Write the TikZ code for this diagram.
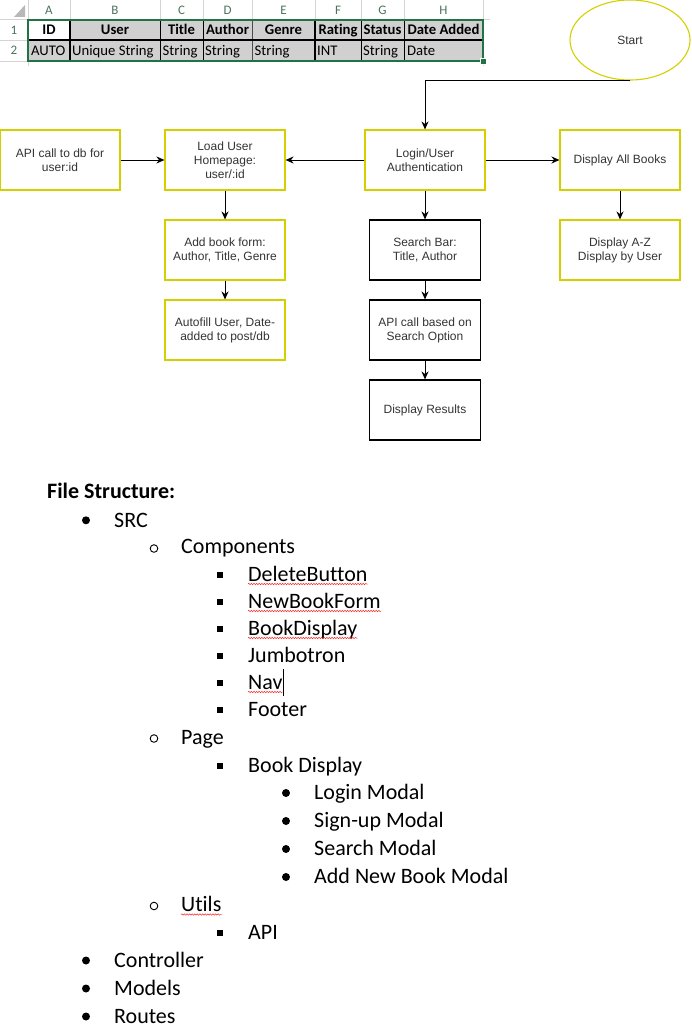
\documentclass[tikz,border=0pt]{standalone}
\usepackage{fontspec}
\usepackage{tikz}
\usetikzlibrary{shapes.geometric, arrows.meta, decorations.pathmorphing}
\setmainfont{Liberation Sans}
\newfontfamily\calibri[Ligatures=NoCommon]{Carlito}
\newcommand{\pxsize}{1pt}
\definecolor{boxyellow}{RGB}{212,208,0}
\definecolor{xlgreen}{RGB}{33,115,70}
\definecolor{xlcell}{RGB}{208,208,208}
\definecolor{xlgrid}{RGB}{212,212,212}
\definecolor{xlletter}{RGB}{75,115,90}
\definecolor{boxtext}{RGB}{51,51,51}

\begin{document}
\begin{tikzpicture}
\useasboundingbox (0,0) rectangle (691*\pxsize,-1033*\pxsize);
\tikzstyle{xlhead}=[font=\calibri\bfseries\fontsize{14.7}{16}\selectfont, anchor=base, inner sep=0pt]
\tikzstyle{xlval}=[font=\calibri\fontsize{14.7}{16}\selectfont, anchor=base west, inner sep=0pt]
\tikzstyle{xlindex}=[font=\calibri\fontsize{13}{15}\selectfont, text=xlletter, inner sep=0pt]
\tikzstyle{flowbox}=[draw=boxyellow, line width=1.1pt, rectangle,
			minimum width=120*\pxsize,
			minimum height=60*\pxsize,
			align=center, text=boxtext,
			font=\fontsize{12}{14}\selectfont,
			inner sep=2pt
			]
\tikzstyle{searchbox}=[flowbox, draw=black, minimum width=111*\pxsize]
\tikzstyle{flowarrow}=[-{Stealth[length=8pt,width=7pt]}, line width=1pt]
\tikzstyle{listitem}=[font=\calibri\fontsize{22}{26}\selectfont, anchor=base west, inner sep=0pt]
\tikzstyle{squiggle}=[red!85, line width=0.5pt, decorate, decoration={snake, amplitude=0.7pt, segment length=2.6pt}]

% spreadsheet header
\fill[black!28] (14*\pxsize,-17*\pxsize) -- (25*\pxsize,-17*\pxsize) -- (25*\pxsize,-5*\pxsize) -- cycle;
\draw[xlgrid] (0,-19.5*\pxsize) -- (490*\pxsize,-19.5*\pxsize);
\draw[xlgrid] (0,-40*\pxsize) -- (28*\pxsize,-40*\pxsize);
\draw[xlgrid] (0,-61*\pxsize) -- (28*\pxsize,-61*\pxsize);
\draw[xlgrid] (28*\pxsize,0) -- (28*\pxsize,-66*\pxsize);
\draw[xlgrid] (70*\pxsize,0) -- (70*\pxsize,-19.5*\pxsize);
\draw[xlgrid] (160*\pxsize,0) -- (160*\pxsize,-19.5*\pxsize);
\draw[xlgrid] (203*\pxsize,0) -- (203*\pxsize,-19.5*\pxsize);
\draw[xlgrid] (252*\pxsize,0) -- (252*\pxsize,-19.5*\pxsize);
\draw[xlgrid] (315*\pxsize,0) -- (315*\pxsize,-19.5*\pxsize);
\draw[xlgrid] (361*\pxsize,0) -- (361*\pxsize,-19.5*\pxsize);
\draw[xlgrid] (404*\pxsize,0) -- (404*\pxsize,-19.5*\pxsize);
\draw[xlgrid] (483*\pxsize,0) -- (483*\pxsize,-66*\pxsize);

\node[xlindex] (colA) at (49*\pxsize,-10.5*\pxsize) {A};
\node[xlindex] (colB) at (115*\pxsize,-10.5*\pxsize) {B};
\node[xlindex] (colC) at (181.5*\pxsize,-10.5*\pxsize) {C};
\node[xlindex] (colD) at (227.5*\pxsize,-10.5*\pxsize) {D};
\node[xlindex] (colE) at (283.5*\pxsize,-10.5*\pxsize) {E};
\node[xlindex] (colF) at (338*\pxsize,-10.5*\pxsize) {F};
\node[xlindex] (colG) at (382.5*\pxsize,-10.5*\pxsize) {G};
\node[xlindex] (colH) at (443.5*\pxsize,-10.5*\pxsize) {H};
\node[xlindex] (rowone) at (14*\pxsize,-30*\pxsize) {1};
\node[xlindex] (rowtwo) at (14*\pxsize,-50.5*\pxsize) {2};

% cells
\fill[xlcell] (70*\pxsize,-20*\pxsize) rectangle (483*\pxsize,-61*\pxsize);
\fill[xlcell] (28*\pxsize,-40*\pxsize) rectangle (70*\pxsize,-61*\pxsize);
\draw[line width=1.1pt] (70*\pxsize,-20*\pxsize) -- (70*\pxsize,-61*\pxsize);
\draw[line width=0.8pt] (160*\pxsize,-20*\pxsize) -- (160*\pxsize,-61*\pxsize);
\draw[line width=0.8pt] (203*\pxsize,-20*\pxsize) -- (203*\pxsize,-61*\pxsize);
\draw[line width=0.6pt, black!70] (252*\pxsize,-20*\pxsize) -- (252*\pxsize,-61*\pxsize);
\draw[line width=1.1pt] (315*\pxsize,-20*\pxsize) -- (315*\pxsize,-61*\pxsize);
\draw[line width=0.8pt] (361*\pxsize,-20*\pxsize) -- (361*\pxsize,-61*\pxsize);
\draw[line width=0.8pt] (404*\pxsize,-20*\pxsize) -- (404*\pxsize,-61*\pxsize);
\draw[line width=1.8pt] (28*\pxsize,-40*\pxsize) -- (483*\pxsize,-40*\pxsize);
\draw[xlgreen, line width=1.8pt] (28*\pxsize,-20*\pxsize) rectangle (483*\pxsize,-61*\pxsize);
\fill[xlgreen, draw=white, line width=0.6pt] (480.5*\pxsize,-58.5*\pxsize) rectangle (486*\pxsize,-64*\pxsize);

\node[xlhead] (hID) at (49*\pxsize,-35*\pxsize) {ID};
\node[xlhead] (hUser) at (115*\pxsize,-35*\pxsize) {User};
\node[xlhead] (hTitle) at (181.5*\pxsize,-35*\pxsize) {Title};
\node[xlhead] (hAuthor) at (227.5*\pxsize,-35*\pxsize) {Author};
\node[xlhead] (hGenre) at (283.5*\pxsize,-35*\pxsize) {Genre};
\node[xlhead] (hRating) at (338*\pxsize,-35*\pxsize) {Rating};
\node[xlhead] (hStatus) at (382.5*\pxsize,-35*\pxsize) {Status};
\node[xlhead] (hDate) at (443.5*\pxsize,-35*\pxsize) {Date Added};

\node[xlval] (vID) at (31*\pxsize,-55.5*\pxsize) {AUTO};
\node[xlval] (vUser) at (72*\pxsize,-55.5*\pxsize) {Unique String};
\node[xlval] (vTitle) at (162.5*\pxsize,-55.5*\pxsize) {String};
\node[xlval] (vAuthor) at (205*\pxsize,-55.5*\pxsize) {String};
\node[xlval] (vGenre) at (254.5*\pxsize,-55.5*\pxsize) {String};
\node[xlval] (vRating) at (317*\pxsize,-55.5*\pxsize) {INT};
\node[xlval] (vStatus) at (363*\pxsize,-55.5*\pxsize) {String};
\node[xlval] (vDate) at (407*\pxsize,-55.5*\pxsize) {Date};

% flowchart
\node[flowbox, ellipse, minimum width=120*\pxsize, minimum height=80*\pxsize] (start) at (630*\pxsize,-40*\pxsize) {Start};
\node[flowbox] (login) at (425*\pxsize,-160*\pxsize) {Login/User\\Authentication};
\node[flowbox] (homepage) at (225*\pxsize,-160*\pxsize) {Load User\\Homepage:\\user/:id};
\node[flowbox] (userapi) at (60*\pxsize,-160*\pxsize) {API call to db for\\user:id};
\node[flowbox] (allbooks) at (620*\pxsize,-160*\pxsize) {Display All Books};
\node[flowbox] (bookform) at (225*\pxsize,-250*\pxsize) {Add book form:\\Author, Title, Genre};
\node[flowbox] (autofill) at (225*\pxsize,-330*\pxsize) {Autofill User, Date-\\added to post/db};
\node[searchbox] (searchbar) at (425*\pxsize,-250*\pxsize) {Search Bar:\\Title, Author};
\node[searchbox] (searchapi) at (425*\pxsize,-330*\pxsize) {API call based on\\Search Option};
\node[searchbox] (results) at (425*\pxsize,-410*\pxsize) {Display Results};
\node[flowbox] (sorting) at (620*\pxsize,-250*\pxsize) {Display A-Z\\Display by User};

\draw[flowarrow] (start.south) -| (login.north);
\draw[flowarrow] (userapi) -- (homepage);
\draw[flowarrow] (login) -- (homepage);
\draw[flowarrow] (login) -- (allbooks);
\draw[flowarrow] (homepage) -- (bookform);
\draw[flowarrow] (bookform) -- (autofill);
\draw[flowarrow] (login) -- (searchbar);
\draw[flowarrow] (searchbar) -- (searchapi);
\draw[flowarrow] (searchapi) -- (results);
\draw[flowarrow] (allbooks) -- (sorting);

% file structure
\node[listitem, font=\calibri\bfseries\fontsize{22}{26}\selectfont] (title) at (47*\pxsize,-498*\pxsize) {File Structure:};

\fill (86*\pxsize,-520.3*\pxsize) circle (4*\pxsize);
\node[listitem] (src) at (114*\pxsize,-527*\pxsize) {SRC};

\draw[line width=0.9pt] (154*\pxsize,-548.5*\pxsize) circle (3.8*\pxsize);
\node[listitem] (components) at (181*\pxsize,-553*\pxsize) {Components};

\fill (217*\pxsize,-571.5*\pxsize) rectangle (223*\pxsize,-577.5*\pxsize);
\node[listitem] (delbtn) at (248*\pxsize,-581*\pxsize) {DeleteButton};

\fill (217*\pxsize,-598.5*\pxsize) rectangle (223*\pxsize,-604.5*\pxsize);
\node[listitem] (newform) at (248*\pxsize,-608*\pxsize) {NewBookForm};

\fill (217*\pxsize,-625.5*\pxsize) rectangle (223*\pxsize,-631.5*\pxsize);
\node[listitem] (bookdisp) at (248*\pxsize,-635*\pxsize) {BookDisplay};

\fill (217*\pxsize,-652.5*\pxsize) rectangle (223*\pxsize,-658.5*\pxsize);
\node[listitem] (jumbo) at (248*\pxsize,-662*\pxsize) {Jumbotron};

\fill (217*\pxsize,-679.5*\pxsize) rectangle (223*\pxsize,-685.5*\pxsize);
\node[listitem] (nav) at (248*\pxsize,-689*\pxsize) {Nav};

\fill (217*\pxsize,-706.5*\pxsize) rectangle (223*\pxsize,-712.5*\pxsize);
\node[listitem] (footer) at (248*\pxsize,-716*\pxsize) {Footer};

\draw[line width=0.9pt] (154*\pxsize,-738.5*\pxsize) circle (3.8*\pxsize);
\node[listitem] (page) at (181*\pxsize,-744*\pxsize) {Page};

\fill (217*\pxsize,-762.5*\pxsize) rectangle (223*\pxsize,-768.5*\pxsize);
\node[listitem] (bookdisplay) at (248*\pxsize,-772*\pxsize) {Book Display};

\fill (286*\pxsize,-793*\pxsize) circle (4*\pxsize);
\node[listitem] (loginmodal) at (314*\pxsize,-799.5*\pxsize) {Login Modal};

\fill (286*\pxsize,-821*\pxsize) circle (4*\pxsize);
\node[listitem] (signupmodal) at (314*\pxsize,-827.5*\pxsize) {Sign-up Modal};

\fill (286*\pxsize,-849*\pxsize) circle (4*\pxsize);
\node[listitem] (searchmodal) at (314*\pxsize,-855.5*\pxsize) {Search Modal};

\fill (286*\pxsize,-877*\pxsize) circle (4*\pxsize);
\node[listitem] (addmodal) at (314*\pxsize,-883.5*\pxsize) {Add New Book Modal};

\draw[line width=0.9pt] (154*\pxsize,-906*\pxsize) circle (3.8*\pxsize);
\node[listitem] (utils) at (181*\pxsize,-911.5*\pxsize) {Utils};

\fill (217*\pxsize,-929.5*\pxsize) rectangle (223*\pxsize,-935.5*\pxsize);
\node[listitem] (api) at (248*\pxsize,-939*\pxsize) {API};

\fill (86*\pxsize,-960.5*\pxsize) circle (4*\pxsize);
\node[listitem] (controller) at (114*\pxsize,-967*\pxsize) {Controller};

\fill (86*\pxsize,-988.5*\pxsize) circle (4*\pxsize);
\node[listitem] (models) at (114*\pxsize,-995*\pxsize) {Models};

\fill (86*\pxsize,-1016.5*\pxsize) circle (4*\pxsize);
\node[listitem] (routes) at (114*\pxsize,-1023*\pxsize) {Routes};

\draw[squiggle] ([yshift=-3*\pxsize]delbtn.base west) -- ([yshift=-3*\pxsize]delbtn.base east);
\draw[squiggle] ([yshift=-3*\pxsize]newform.base west) -- ([yshift=-3*\pxsize]newform.base east);
\draw[squiggle] ([yshift=-3*\pxsize]bookdisp.base west) -- ([yshift=-3*\pxsize]bookdisp.base east);
\draw[squiggle] ([yshift=-3*\pxsize]nav.base west) -- ([yshift=-3*\pxsize]nav.base east);
\draw[squiggle] ([yshift=-3*\pxsize]utils.base west) -- ([yshift=-3*\pxsize]utils.base east);
\draw[line width=0.7pt] ([xshift=1*\pxsize,yshift=-7*\pxsize]nav.base east) -- ++(0,27*\pxsize);

\end{tikzpicture}
\end{document}
